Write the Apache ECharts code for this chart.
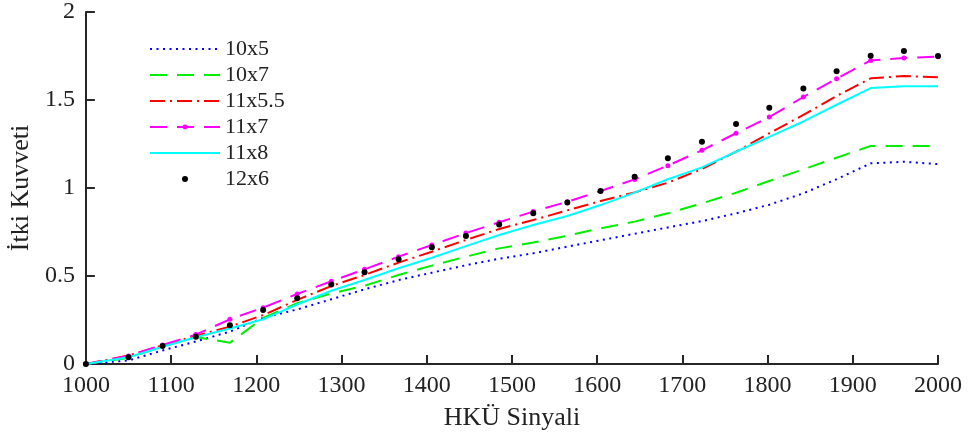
<!DOCTYPE html>
<html>
<head>
<meta charset="utf-8">
<script src="https://cdn.jsdelivr.net/npm/echarts@6/dist/echarts.min.js"></script>
<style>
  html,body{margin:0;padding:0;background:#fff;}
  #chart{width:968px;height:436px;}
</style>
</head>
<body>
<div id="chart"></div>
<script>
const signal = [1000, 1050, 1090, 1129, 1169, 1208, 1248, 1288, 1327, 1367, 1406, 1446, 1485, 1525, 1565, 1604, 1644, 1683, 1723, 1763, 1802, 1842, 1881, 1921, 1960, 2000];

const p10x5  = [0, 0.02, 0.077, 0.128, 0.184, 0.262, 0.31, 0.368, 0.424, 0.477, 0.519, 0.561, 0.598, 0.629, 0.667, 0.703, 0.74, 0.776, 0.812, 0.856, 0.905, 0.97, 1.05, 1.14, 1.149, 1.136];
const p10x7  = [0, 0.035, 0.1, 0.153, 0.121, 0.262, 0.345, 0.40, 0.445, 0.506, 0.559, 0.61, 0.657, 0.69, 0.729, 0.771, 0.809, 0.856, 0.913, 0.973, 1.04, 1.106, 1.172, 1.239, 1.239, 1.239];
const p11x55 = [0, 0.048, 0.106, 0.16, 0.212, 0.278, 0.364, 0.443, 0.506, 0.576, 0.638, 0.705, 0.767, 0.818, 0.873, 0.926, 0.975, 1.03, 1.108, 1.206, 1.311, 1.415, 1.523, 1.623, 1.636, 1.629];
const p11x7  = [0, 0.045, 0.108, 0.167, 0.254, 0.32, 0.398, 0.47, 0.538, 0.61, 0.676, 0.744, 0.805, 0.866, 0.922, 0.983, 1.049, 1.127, 1.214, 1.311, 1.403, 1.517, 1.621, 1.725, 1.739, 1.746];
const p11x8  = [0, 0.038, 0.098, 0.152, 0.202, 0.254, 0.338, 0.416, 0.477, 0.544, 0.604, 0.67, 0.733, 0.79, 0.841, 0.903, 0.974, 1.05, 1.117, 1.206, 1.29, 1.378, 1.473, 1.568, 1.578, 1.578];
const p12x6  = [0, 0.038, 0.102, 0.155, 0.22, 0.307, 0.373, 0.452, 0.521, 0.595, 0.663, 0.727, 0.792, 0.856, 0.917, 0.983, 1.064, 1.169, 1.263, 1.364, 1.456, 1.566, 1.663, 1.752, 1.778, 1.75];

const names = ['10x5', '10x7', '11x5.5', '11x7', '11x8', '12x6'];
// legend entries that show a marker next to the line
const markedNames = ['11x7', '12x6'];

const font = "'Liberation Serif', 'Times New Roman', serif";
const axisColor = '#262626';

const pairs = ys => ys.map((y, i) => [signal[i], y]);

function lineSeries(name, ys, color, type, withDots) {
    return {
        name: name,
        type: 'line',
        data: pairs(ys),
        symbol: withDots ? 'circle' : 'none',
        symbolSize: 5,
        itemStyle: { color: color },
        lineStyle: { color: color, width: 2, type: type },
        z: 3
    };
}

const chart = echarts.init(document.getElementById('chart'));
chart.setOption({
    animation: false,
    grid: { left: 85, right: 30, top: 12, bottom: 72 },
    legend: {
        left: 144,
        top: 33,
        orient: 'vertical',
        itemWidth: 70,
        itemHeight: 6,
        itemGap: 4,
        data: names.map(n => markedNames.includes(n) ? n : { name: n, itemStyle: { opacity: 0 } }),
        textStyle: { fontFamily: font, fontSize: 22, color: '#222' }
    },
    xAxis: {
        type: 'value',
        min: 1000,
        max: 2000,
        interval: 100,
        name: 'HKÜ Sinyali',
        nameLocation: 'middle',
        nameGap: 41,
        nameTextStyle: { fontFamily: font, fontSize: 26, color: '#222' },
        axisLine: { lineStyle: { color: axisColor, width: 2 } },
        axisTick: { inside: true, length: 9, lineStyle: { color: axisColor, width: 2 } },
        axisLabel: { fontFamily: font, fontSize: 24, color: '#222', margin: 10, formatter: v => String(v) },
        splitLine: { show: false }
    },
    yAxis: {
        type: 'value',
        min: 0,
        max: 2,
        interval: 0.5,
        name: 'İtki Kuvveti',
        nameLocation: 'middle',
        nameRotate: 90,
        nameGap: 34,
        nameTextStyle: { fontFamily: font, fontSize: 26, color: '#222' },
        axisLine: { show: true, lineStyle: { color: axisColor, width: 2 } },
        axisTick: { show: true, inside: true, length: 9, lineStyle: { color: axisColor, width: 2 } },
        axisLabel: { fontFamily: font, fontSize: 24, color: '#222', margin: 11 },
        splitLine: { show: false }
    },
    series: [
        lineSeries('10x5', p10x5, '#0000ff', [2, 4.5], false),
        lineSeries('10x7', p10x7, '#00ee00', [17, 10], false),
        lineSeries('11x5.5', p11x55, '#ff0000', [15, 5, 2, 5], false),
        lineSeries('11x7', p11x7, '#ff00ff', [17, 10], true),
        lineSeries('11x8', p11x8, '#00ffff', 'solid', false),
        {
            name: '12x6',
            type: 'scatter',
            data: pairs(p12x6),
            symbol: 'circle',
            symbolSize: 6,
            itemStyle: { color: '#000', opacity: 1 },
            z: 4
        }
    ]
});
</script>
</body>
</html>
